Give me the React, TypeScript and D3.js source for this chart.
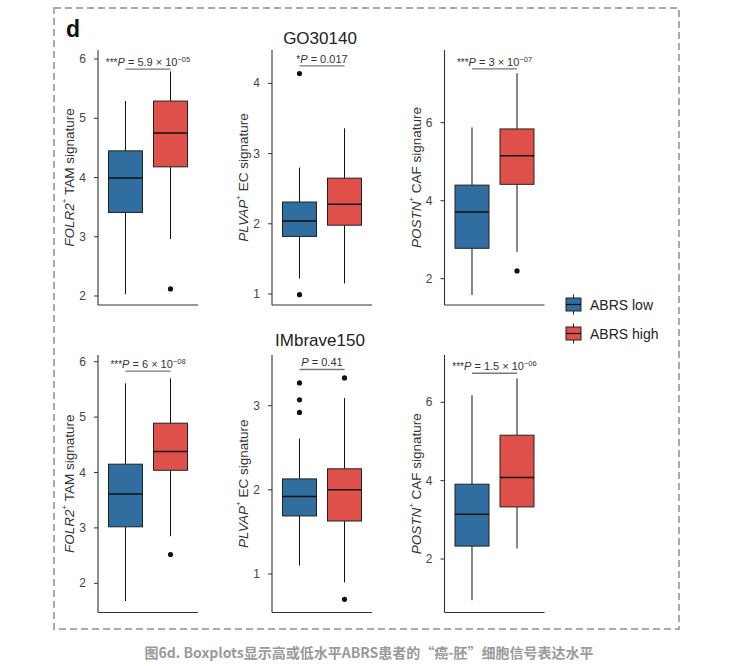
import React from "react";
import * as d3 from "d3";

// ---- data ----
const groups = ["ABRS low", "ABRS high"];
const cohorts = ["GO30140", "IMbrave150"];
const genes = ["FOLR2", "PLVAP", "POSTN"];
const cellTypes = ["TAM", "EC", "CAF"];

// box stats: [lower whisker, Q1, median, Q3, upper whisker] for [low, high]
const goFolr2 = [[2.03, 3.41, 3.99, 4.45, 5.29], [2.96, 4.18, 4.75, 5.29, 5.79]];
const goPlvap = [[1.22, 1.82, 2.04, 2.31, 2.8], [1.15, 1.98, 2.28, 2.65, 3.36]];
const goPostn = [[1.58, 2.78, 3.71, 4.4, 5.88], [2.69, 4.42, 5.15, 5.84, 7.27]];
const imFolr2 = [[1.68, 3.02, 3.61, 4.15, 5.61], [2.85, 4.04, 4.38, 4.89, 5.7]];
const imPlvap = [[1.1, 1.69, 1.92, 2.13, 2.61], [0.9, 1.63, 2.0, 2.25, 3.09]];
const imPostn = [[0.95, 2.33, 3.14, 3.91, 6.18], [2.27, 3.33, 4.08, 5.16, 6.61]];

const goFolr2Out = [[], [2.12]];
const goPlvapOut = [[4.14, 0.99], []];
const goPostnOut = [[], [2.2]];
const imFolr2Out = [[], [2.52]];
const imPlvapOut = [[3.27, 3.07, 2.92], [3.33, 0.7]];
const imPostnOut = [[], []];

// p-value labels: [stars, mantissa, exponent]
const pLabels = [
  ["***", "5.9", "−05"],
  ["*", "0.017", ""],
  ["***", "3", "−07"],
  ["***", "6", "−08"],
  ["", "0.41", ""],
  ["***", "1.5", "−06"],
];
const bracketY = [5.83, 4.25, 7.38, 5.83, 3.43, 6.74];

const yTicks = [[2, 3, 4, 5, 6], [1, 2, 3, 4], [2, 4, 6], [2, 3, 4, 5, 6], [1, 2, 3], [2, 4, 6]];
const yDomains = [[1.848, 6.152], [0.843, 4.476], [1.326, 7.864], [1.473, 6.121], [0.543, 3.602], [0.635, 7.207]];

const boxStats = [goFolr2, goPlvap, goPostn, imFolr2, imPlvap, imPostn];
const outliers = [goFolr2Out, goPlvapOut, goPostnOut, imFolr2Out, imPlvapOut, imPostnOut];

// ---- style / layout ----
const colors = ["#2F6E9E", "#E0504A"];
const colX = [98, 272, 444.5];
const rowY = [[50, 305], [355, 612.5]];
const plotW = 100;
const boxW = 34;
const FONT = "'Liberation Sans', Arial, Helvetica, sans-serif";

function Panel({ idx }: { idx: number }) {
  const row = Math.floor(idx / 3);
  const col = idx % 3;
  const x0 = colX[col];
  const [top, bottom] = rowY[row];
  const y = d3.scaleLinear().domain(yDomains[idx]).range([bottom, top]);
  const x = d3.scalePoint<string>().domain(groups).range([0, plotW]).padding(0.611);
  const stats = boxStats[idx];
  const outs = outliers[idx];
  const [stars, mant, expo] = pLabels[idx];
  const bx1 = x0 + (x(groups[0]) as number);
  const bx2 = x0 + (x(groups[1]) as number);
  const by = y(bracketY[idx]);
  const cy = (top + bottom) / 2;
  return (
    <g>
      {/* axes */}
      <line x1={x0} x2={x0} y1={top} y2={bottom} stroke="#333" strokeWidth={1.1} />
      <line x1={x0} x2={x0 + plotW} y1={bottom} y2={bottom} stroke="#333" strokeWidth={1.1} />
      {yTicks[idx].map((t) => (
        <g key={t}>
          <line x1={x0 - 4} x2={x0} y1={y(t)} y2={y(t)} stroke="#333" strokeWidth={1} />
          <text x={x0 - 12} y={y(t)} textAnchor="end" dominantBaseline="central" fontSize={12} fill="#444" fontFamily={FONT}>
            {t}
          </text>
        </g>
      ))}
      <text
        transform={`translate(${x0 - 29},${cy}) rotate(-90)`}
        textAnchor="middle"
        dominantBaseline="central"
        fontSize={13.5}
        fill="#333"
        fontFamily={FONT}
      >
        <tspan fontStyle="italic">{genes[col]}</tspan>
        <tspan dy={-5} fontSize={8}>+</tspan>
        <tspan dy={5}>{` ${cellTypes[col]} signature`}</tspan>
      </text>
      {/* boxes */}
      {groups.map((g, gi) => {
        const cx = x0 + (x(g) as number);
        const [lw, q1, med, q3, uw] = stats[gi];
        return (
          <g key={g}>
            <line x1={cx} x2={cx} y1={y(uw)} y2={y(q3)} stroke="#111" strokeWidth={1} />
            <line x1={cx} x2={cx} y1={y(q1)} y2={y(lw)} stroke="#111" strokeWidth={1} />
            <rect x={cx - boxW / 2} y={y(q3)} width={boxW} height={y(q1) - y(q3)} fill={colors[gi]} stroke="#222" strokeWidth={1} />
            <line x1={cx - boxW / 2} x2={cx + boxW / 2} y1={y(med)} y2={y(med)} stroke="#111" strokeWidth={1.5} />
            {outs[gi].map((o, oi) => (
              <circle key={oi} cx={cx} cy={y(o)} r={2.6} fill="#111" />
            ))}
          </g>
        );
      })}
      {/* bracket + p label */}
      <line x1={bx1} x2={bx2} y1={by} y2={by} stroke="#777" strokeWidth={1.4} />
      <text x={(bx1 + bx2) / 2} y={by - 3} textAnchor="middle" fontSize={11} fill="#333" fontFamily={FONT}>
        {stars && <tspan fontSize={10}>{stars}</tspan>}
        <tspan fontStyle="italic">P</tspan>
        <tspan>{expo ? ` = ${mant} × 10` : ` = ${mant}`}</tspan>
        {expo && (
          <tspan dy={-4} fontSize={7.5}>
            {expo}
          </tspan>
        )}
      </text>
    </g>
  );
}

export default function App() {
  const legendY = [304.5, 333.5];
  return (
    <svg width={735} height={666} style={{ position: "absolute", left: 0, top: 0, background: "#fff" }}>
      <rect x={0} y={0} width={735} height={666} fill="#fff" />
      <rect x={54} y={8} width={625} height={621} fill="none" stroke="#aaa" strokeWidth={2} strokeDasharray="7 4" />
      <text x={66} y={37} fontSize={23} fontWeight="bold" fill="#111" fontFamily={FONT}>
        d
      </text>
      {cohorts.map((c, i) => (
        <text key={c} x={320} y={i === 0 ? 44 : 345.5} textAnchor="middle" fontSize={17} fill="#222" fontFamily={FONT}>
          {c}
        </text>
      ))}
      {[0, 1, 2, 3, 4, 5].map((i) => (
        <Panel key={i} idx={i} />
      ))}
      {/* legend */}
      {groups.map((g, gi) => {
        const cy = legendY[gi];
        return (
          <g key={g}>
            <line x1={573.5} x2={573.5} y1={cy - 10} y2={cy + 10} stroke="#222" strokeWidth={1} />
            <rect x={566} y={cy - 6.5} width={15} height={13} fill={colors[gi]} stroke="#222" strokeWidth={1} />
            <line x1={566} x2={581} y1={cy} y2={cy} stroke="#111" strokeWidth={1.2} />
            <text x={590} y={cy} dominantBaseline="central" fontSize={14} fill="#222" fontFamily={FONT}>
              {g}
            </text>
          </g>
        );
      })}
      <text x={369} y={658} textAnchor="middle" fontSize={14} fontWeight="bold" fill="#9a9a9a" fontFamily="'Noto Sans CJK SC', sans-serif">
        图6d. Boxplots显示高或低水平ABRS患者的“癌-胚”细胞信号表达水平
      </text>
    </svg>
  );
}
